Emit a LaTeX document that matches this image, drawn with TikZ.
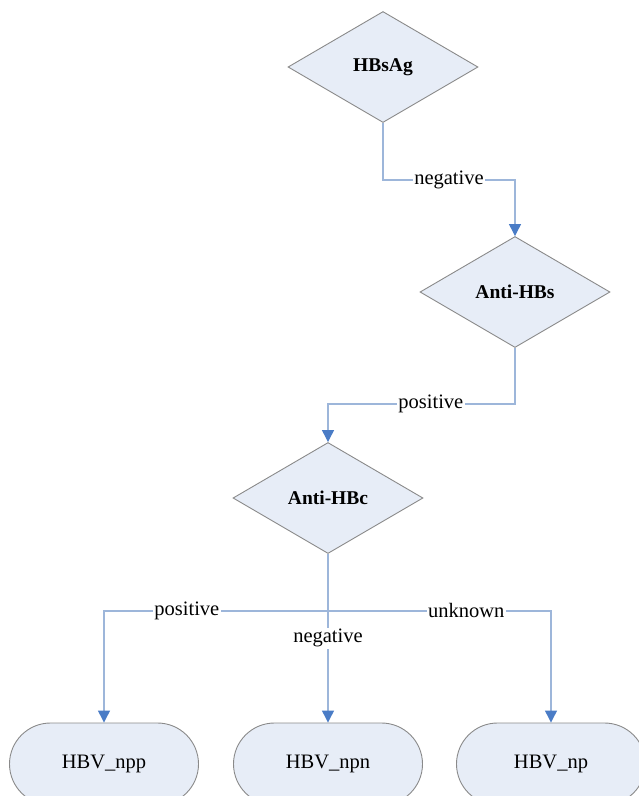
\documentclass[tikz,border=0pt]{standalone}
\usepackage{fontspec}
\setmainfont{Liberation Serif}
\usetikzlibrary{shapes.geometric,shapes.misc,arrows.meta}
\definecolor{shapefill}{HTML}{E7EDF7}
\definecolor{shapeline}{HTML}{8A8A8A}
\definecolor{linkline}{HTML}{9DB6DA}
\definecolor{tipblue}{HTML}{4A7CC6}
\tikzset{
  decision/.style={diamond, draw=shapeline, fill=shapefill, line width=0.9pt,
    minimum width=190pt, minimum height=111pt, inner sep=0pt,
    font=\fontsize{19.5}{22}\selectfont\bfseries},
  outcome/.style={rounded rectangle, draw=shapeline, fill=shapefill, line width=0.9pt,
    minimum width=189pt, minimum height=82pt, inner sep=0pt,
    font=\fontsize{20.5}{23}\selectfont},
  link/.style={draw=linkline, line width=1.2pt,
    -{Triangle[length=12pt,width=12pt,color=tipblue,fill=tipblue]}},
  linklabel/.style={fill=white, inner sep=1.5pt, text=black,
    font=\fontsize{20.5}{23}\selectfont}
}
\begin{document}
\begin{tikzpicture}[x=1pt,y=-1pt]
  \useasboundingbox (0,0) rectangle (638,796);

  % decision nodes
  \node[decision] (hbsag)   at (383,67)  {HBsAg};
  \node[decision] (antihbs) at (515,292) {Anti-HBs};
  \node[decision] (antihbc) at (328,498) {Anti-HBc};

  % outcome nodes
  \node[outcome] (npp) at (104,764) {HBV\_npp};
  \node[outcome] (npn) at (328,764) {HBV\_npn};
  \node[outcome] (np)  at (551,764) {HBV\_np};

  % connectors
  \draw[link] (hbsag.south) -- ++(0,57)
    -| node[linklabel,pos=0.25] {negative} (antihbs.north);
  \draw[link] (antihbs.south) -- ++(0,56)
    -| node[linklabel,pos=0.225] {positive} (antihbc.north);
  \draw[link] (antihbc.south) -- ++(0,57)
    -| node[linklabel,pos=0.315] {positive} (npp.north);
  \draw[link] (antihbc.south) -- ++(0,57)
    -| node[linklabel,pos=0.31] {unknown} (np.north);
  \draw[link] (antihbc.south)
    -- node[linklabel,pos=0.5] {negative} (npn.north);
\end{tikzpicture}
\end{document}
